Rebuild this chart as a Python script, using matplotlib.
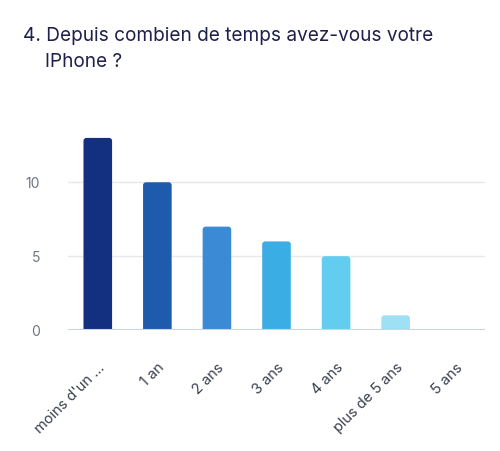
import matplotlib.pyplot as plt
from matplotlib.patches import FancyBboxPatch

categories = ["moins d'un ...", "1 an", "2 ans", "3 ans", "4 ans", "plus de 5 ans", "5 ans"]
counts = [13, 10, 7, 6, 5, 1, 0]
colors = ["#12307f", "#1f5bad", "#3a8ad6", "#3badE5", "#62cdef", "#9ee0f4", "#c9eef9"]

plt.rcParams['font.family'] = ['Inter', 'DejaVu Sans']

fig = plt.figure(figsize=(5, 4.51), dpi=100)
ax = fig.add_axes([0.136, 0.268, 0.834, 0.459])

x = range(len(categories))
bars = ax.bar(x, counts, width=0.48, color=colors, zorder=3)

ax.set_xlim(-0.5, len(categories) - 0.5)
ax.set_ylim(0, 14)

# swap the plain bars for ones with slightly rounded tops
for b in bars:
    if b.get_height() <= 0:
        continue
    rb = FancyBboxPatch((b.get_x(), -0.4), b.get_width(), b.get_height() + 0.4,
                        boxstyle="round,pad=0,rounding_size=0.05",
                        mutation_aspect=4.0, facecolor=b.get_facecolor(),
                        edgecolor='none', zorder=3)
    ax.add_patch(rb)
    b.set_visible(False)

ax.set_yticks([0, 5, 10])
ax.grid(axis='y', color='#e6e8ee', linewidth=1, zorder=0)
ax.axhline(0, color='#c9d3ea', linewidth=1.5, zorder=4)

for side in ['top', 'right', 'left', 'bottom']:
    ax.spines[side].set_visible(False)

ax.tick_params(axis='y', length=0, pad=20, labelsize=10, labelcolor='#6f7585')
ax.tick_params(axis='x', length=0, pad=22, labelsize=10.5, labelcolor='#3a3f4f')
ax.set_xticks(list(x))
ax.set_xticklabels(categories, rotation=45, ha='right', rotation_mode='anchor')

fig.text(0.046, 0.92, "4. Depuis combien de temps avez-vous votre", fontsize=13.7,
         color='#1e1f4b', va='center')
fig.text(0.09, 0.862, "IPhone ?", fontsize=13.7, color='#1e1f4b', va='center')

fig.savefig('out.png', dpi=100)
